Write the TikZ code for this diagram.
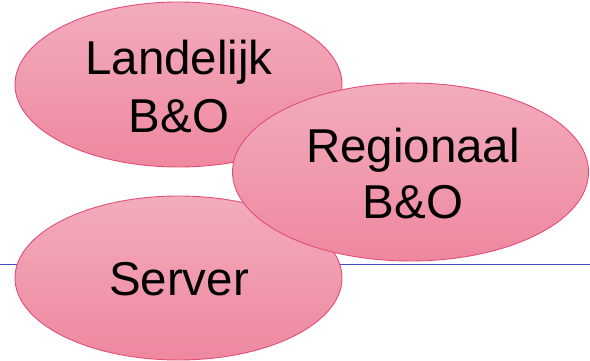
\documentclass[tikz,border=0pt]{standalone}
\usepackage{fontspec}
\setmainfont{Liberation Sans}
\usetikzlibrary{shapes.geometric}
\definecolor{pinktop}{RGB}{243,172,188}
\definecolor{pinkbot}{RGB}{238,136,159}
\definecolor{pinkedge}{RGB}{226,78,120}
\definecolor{rulerblue}{RGB}{64,80,192}
\tikzset{
  blob/.style={ellipse, draw=pinkedge, line width=0.9pt, top color=pinktop, bottom color=pinkbot, inner sep=0pt},
  blobtext/.style={align=center, font=\fontsize{47.5}{57.5}\selectfont, text=black, inner sep=0pt}
}
\begin{document}
\begin{tikzpicture}[x=1pt,y=-1pt]
\useasboundingbox (0,0) rectangle (590,361);
\coordinate (lineL) at (0,264);
\coordinate (lineR) at (590,264);
\draw[rulerblue, line width=1pt] (lineL) -- (lineR);
\node[blob, minimum width=327pt, minimum height=165pt] (land) at (178.5,84.5) {};
\node[blobtext] (landt) at (179,86.4) {Landelijk\\B\&O};
\node[blob, minimum width=327pt, minimum height=164pt] (serv) at (178.5,278) {};
\node[blobtext] (servt) at (179,279.5) {Server};
\node[blob, minimum width=356pt, minimum height=178pt] (reg) at (410.5,172) {};
\node[blobtext, font=\fontsize{47.5}{56.3}\selectfont] (regt) at (413,173.2) {Regionaal\\B\&O};
\end{tikzpicture}
\end{document}
